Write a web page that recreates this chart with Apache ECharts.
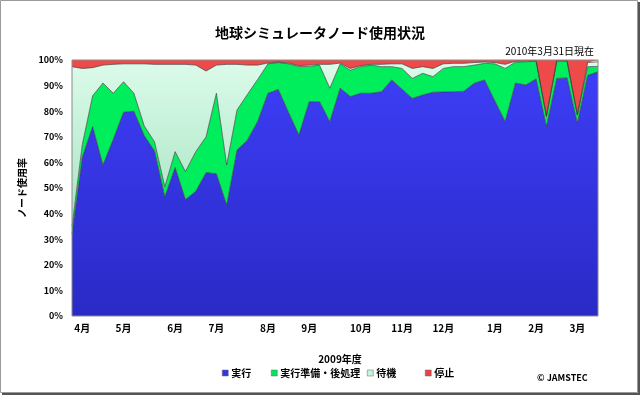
<!DOCTYPE html>
<html>
<head>
<meta charset="utf-8">
<script src="https://cdn.jsdelivr.net/npm/echarts@6/dist/echarts.min.js"></script>
<style>
html,body{margin:0;padding:0;background:#fff;}
#c{width:640px;height:395px;}
</style>
</head>
<body>
<div id="c"></div>
<script>
// Weekly categories (FY2009); month names mark the labelled weeks
const categories = ['', '4月', '', '', '', '5月', '', '', '', '', '6月', '', '', '', '7月', '', '', '', '', '8月', '', '', '', '9月', '', '', '', '', '10月', '', '', '', '11月', '', '', '', '12月', '', '', '', '', '1月', '', '', '', '2月', '', '', '', '3月', '', ''];

const seriesNames = ['実行', '実行準備・後処理', '待機', '停止'];

// 実行 (running)
const running = [32, 62, 74, 59, 69, 79.6, 80, 70.5, 64.5, 46.6, 58, 45.5, 48.7, 56, 55.6, 43.4, 64.8, 68.7, 76, 87, 88.5, 79.5, 70.7, 83.7, 83.7, 75.9, 89, 85.7, 87, 87, 87.6, 92.2, 88.6, 85, 86.3, 87.4, 87.5, 87.6, 87.8, 90.9, 92.2, 84, 76, 91, 90.2, 92.6, 74, 92.8, 93, 75.3, 94, 95.4];
// 実行準備・後処理 (prep / post-processing)
const prepPost = [3, 5, 12, 32, 18, 11.9, 7, 3.8, 3.5, 3.9, 6.2, 10.9, 15.5, 14, 31.4, 15.6, 15.7, 17.8, 16.4, 11.5, 10.5, 19, 26.7, 13.8, 14.3, 13.1, 9.5, 10.3, 10.4, 11, 9.8, 5.2, 8.1, 7.8, 8.5, 6.1, 9.2, 9.8, 9.6, 7.1, 6.5, 14.5, 20.7, 8.2, 9.1, 6.9, 4, 6.7, 6.5, 3.2, 3.4, 2.1];
// 待機 (idle)
const idle = [62.4, 29.7, 11, 7, 11.3, 7, 11.5, 24.2, 30.3, 47.8, 34.1, 41.9, 33.8, 25.7, 11, 39.3, 17.8, 11.5, 5.6, 0.3, 0.2, 0.3, 0.4, 0.5, 0.3, 9.3, 0.3, 0.7, 0.4, 0.3, 0.9, 1.1, 1.8, 3.9, 2.6, 3.2, 1.8, 1.3, 1.3, 1, 0.5, 0.5, 1.6, 0.3, 0.3, 0.2, 0, 0.2, 0.2, 0, 1.6, 1.8];
// 停止 (stopped)
const stopped = [2.6, 3.3, 3, 2, 1.7, 1.5, 1.5, 1.5, 1.7, 1.7, 1.7, 1.7, 2, 4.3, 2, 1.7, 1.7, 2, 2, 1.2, 0.8, 1.2, 2.2, 2, 1.7, 1.7, 1.2, 3.3, 2.2, 1.7, 1.7, 1.5, 1.5, 3.3, 2.6, 3.3, 1.5, 1.3, 1.3, 1, 0.8, 1, 1.7, 0.5, 0.4, 0.3, 22, 0.3, 0.3, 21.5, 1, 0.7];

const yTicks = [0, 10, 20, 30, 40, 50, 60, 70, 80, 90, 100];

const FONT = '"Noto Sans CJK JP", "Noto Sans", sans-serif';
const chart = echarts.init(document.getElementById('c'), null, {renderer: 'canvas'});

const G = echarts.graphic;
const colors = [
  new G.LinearGradient(0, 0, 0, 1, [{offset: 0, color: '#3d3df6'}, {offset: 1, color: '#2a2ac6'}]),
  '#00ee5c',
  new G.LinearGradient(0, 0, 0, 1, [{offset: 0, color: '#dcfbea'}, {offset: 1, color: '#a6e4c2'}]),
  '#ee4a4a'
];
const legendColors = ['#3535e8', '#00e65a', '#c6f3dc', '#e84444'];
const values = [running, prepPost, idle, stopped];

function mkSeries(i) {
  return {
    name: seriesNames[i],
    type: 'line',
    stack: 'total',
    data: values[i],
    symbol: 'none',
    smooth: false,
    color: legendColors[i],
    lineStyle: {color: '#3a3a3a', width: i === 3 ? 0 : 0.9, opacity: 0.75},
    areaStyle: {color: colors[i], opacity: 1},
    emphasis: {disabled: true},
    z: 2
  };
}

const legendLefts = [222, 271, 367, 425];
const legends = seriesNames.map((n, i) => ({
  data: [{name: n, itemStyle: {color: legendColors[i], borderColor: '#666', borderWidth: 0.5}}],
  left: legendLefts[i],
  top: 368,
  icon: 'rect',
  itemWidth: 6,
  itemHeight: 6,
  itemGap: 0,
  padding: 0,
  selectedMode: false,
  textStyle: {fontFamily: FONT, fontSize: 10, fontWeight: 'bold', color: '#000', padding: [0, 0, 0, -2]}
}));

chart.setOption({
  backgroundColor: '#ffffff',
  animation: false,
  title: [
    {text: '地球シミュレータノード使用状況', left: 'center', top: 21,
     textStyle: {fontFamily: FONT, fontSize: 14, fontWeight: 'bold', color: '#000'}},
    {text: '2010年3月31日現在', right: 41, top: 41,
     textStyle: {fontFamily: FONT, fontSize: 10, fontWeight: 'normal', color: '#000'}},
    {text: '2009年度', left: 335, textAlign: 'center', top: 349,
     textStyle: {fontFamily: FONT, fontSize: 10, fontWeight: 'bold', color: '#000'}},
    {text: '© JAMSTEC', left: 532, top: 368,
     textStyle: {fontFamily: FONT, fontSize: 9, fontWeight: 'bold', color: '#000'}}
  ],
  legend: legends,
  graphic: [
    {type: 'rect', shape: {x: 0.5, y: 0.5, width: 637, height: 392},
     style: {fill: 'none', stroke: '#9a9a9a', lineWidth: 1}, z: 0},
    {type: 'line', shape: {x1: 2, y1: 394, x2: 640, y2: 394}, style: {stroke: '#555', lineWidth: 2}},
    {type: 'line', shape: {x1: 639, y1: 2, x2: 639, y2: 394}, style: {stroke: '#555', lineWidth: 2}}
  ],
  grid: {left: 72, right: 42, top: 60, bottom: 79, show: true, borderColor: '#8a8a8a', borderWidth: 1, backgroundColor: 'transparent', z: 5},
  xAxis: {
    type: 'category',
    data: categories,
    boundaryGap: false,
    axisLine: {show: false},
    axisTick: {show: false},
    splitLine: {show: false},
    axisLabel: {interval: 0, margin: 7, fontFamily: FONT, fontSize: 10, fontWeight: 'bold', color: '#000'}
  },
  yAxis: {
    type: 'value',
    min: yTicks[0],
    max: yTicks[yTicks.length - 1],
    interval: 10,
    name: 'ノード使用率',
    nameLocation: 'middle',
    nameRotate: 90,
    nameGap: 40,
    nameTextStyle: {fontFamily: FONT, fontSize: 10, fontWeight: 'bold', color: '#000'},
    axisLine: {show: false},
    axisTick: {show: false},
    splitLine: {show: false},
    axisLabel: {margin: 9, fontFamily: FONT, fontSize: 9, fontWeight: 'bold', color: '#000', formatter: '{value}%'}
  },
  series: [0, 1, 2, 3].map(mkSeries)
});
</script>
</body>
</html>
